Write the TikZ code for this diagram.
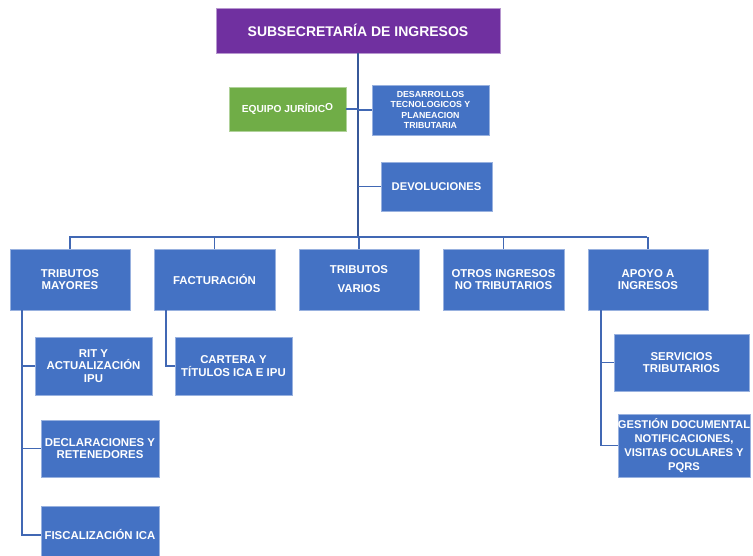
\documentclass[tikz,border=0pt]{standalone}
\usepackage{fontspec}
\setmainfont{Liberation Sans}
\definecolor{headpurple}{HTML}{7030A0}
\definecolor{legalgreen}{HTML}{70AD47}
\definecolor{unitblue}{HTML}{4472C4}
\definecolor{linkblue}{HTML}{4168B4}
\begin{document}
\begin{tikzpicture}[x=1pt,y=-1pt,
  unit/.style={rectangle, fill=unitblue, draw=unitblue!55!white, line width=0.6pt,
    text=white, align=center, inner sep=0pt,
    font=\fontsize{11.4}{12.8}\selectfont\bfseries},
  head/.style={unit, fill=headpurple, draw=headpurple!50!white,
    font=\fontsize{14}{15}\selectfont\bfseries},
  legal/.style={unit, fill=legalgreen, draw=legalgreen!55!white,
    font=\fontsize{10.2}{11}\selectfont\bfseries},
  link/.style={draw=linkblue, line width=1.1pt},
  spine/.style={draw=linkblue!85!black, line width=1.6pt}]
\useasboundingbox (0,0) rectangle (753,556);
\clip (0,0) rectangle (753,556);

% top level and staff units
\node[head, minimum width=284, minimum height=45] (top) at (358,30.5) {SUBSECRETARÍA DE INGRESOS};
\node[legal, minimum width=117, minimum height=44] (jur) at (287.5,109) {EQUIPO JURÍDIC\raisebox{2pt}{O}};
\node[unit, minimum width=117, minimum height=50,
  font=\fontsize{8.8}{10.4}\selectfont\bfseries] (des) at (430.5,110) {DESARROLLOS\\TECNOLOGICOS Y\\PLANEACION\\TRIBUTARIA};
\node[unit, minimum width=111, minimum height=49,
  font=\fontsize{11.2}{12}\selectfont\bfseries] (dev) at (436.5,186.5) {DEVOLUCIONES};

% second level
\node[unit, minimum width=120, minimum height=61] (tm)  at (70,279.5)  {TRIBUTOS\\MAYORES};
\node[unit, minimum width=121, minimum height=61] (fac) at (214.5,279.5) {FACTURACIÓN};
\node[unit, minimum width=120, minimum height=61,
  font=\fontsize{11.4}{19}\selectfont\bfseries] (var) at (359,279.5) {TRIBUTOS\\VARIOS};
\node[unit, minimum width=121, minimum height=61] (otr) at (503.5,279.5) {OTROS INGRESOS\\NO TRIBUTARIOS};
\node[unit, minimum width=120, minimum height=61] (apo) at (648,279.5)  {APOYO A\\INGRESOS};

% third level
\node[unit, minimum width=117, minimum height=58] (rit) at (93.5,366)  {RIT Y\\ACTUALIZACIÓN\\IPU};
\node[unit, minimum width=118, minimum height=57] (dec) at (100,448.5) {DECLARACIONES Y\\RETENEDORES};
\node[unit, minimum width=118, minimum height=58] (fis) at (100,535)   {FISCALIZACIÓN ICA};
\node[unit, minimum width=117, minimum height=58] (car) at (233.5,366) {CARTERA Y\\TÍTULOS ICA E IPU};
\node[unit, minimum width=135, minimum height=57] (ser) at (681.5,362.5) {SERVICIOS\\TRIBUTARIOS};
\node[unit, minimum width=132, minimum height=63,
  font=\fontsize{11.2}{14}\selectfont\bfseries] (ges) at (684,445.5) {GESTIÓN DOCUMENTAL\\NOTIFICACIONES,\\VISITAS OCULARES Y\\PQRS};

% bus and branch points
\coordinate (busL) at (69,237);
\coordinate (busR) at (647,237);
\coordinate (tmx) at (22,0);
\coordinate (facx) at (166,0);
\coordinate (apox) at (601,0);

% main spine and staff links
\draw[spine] (top.south) -- (top.south |- busL);
\draw[link] (jur.east) -- (jur.east -| top.south);
\draw[link] (des.west) -- (des.west -| top.south);
\draw[link] (dev.west) -- (dev.west -| top.south);

% horizontal bus and drops
\draw[link] (busL) -- (busR);
\foreach \n in {tm,fac,var,otr,apo}
  \draw[link] (\n.north) -- (\n.north |- busL);

% sub-unit links
\draw[link] (tm.south -| tmx) -- (fis.west -| tmx) -- (fis.west);
\draw[link] (rit.west -| tmx) -- (rit.west);
\draw[link] (dec.west -| tmx) -- (dec.west);
\draw[link] (fac.south -| facx) -- (car.west -| facx) -- (car.west);
\draw[link] (apo.south -| apox) -- (ges.west -| apox) -- (ges.west);
\draw[link] (ser.west -| apox) -- (ser.west);
\end{tikzpicture}
\end{document}
